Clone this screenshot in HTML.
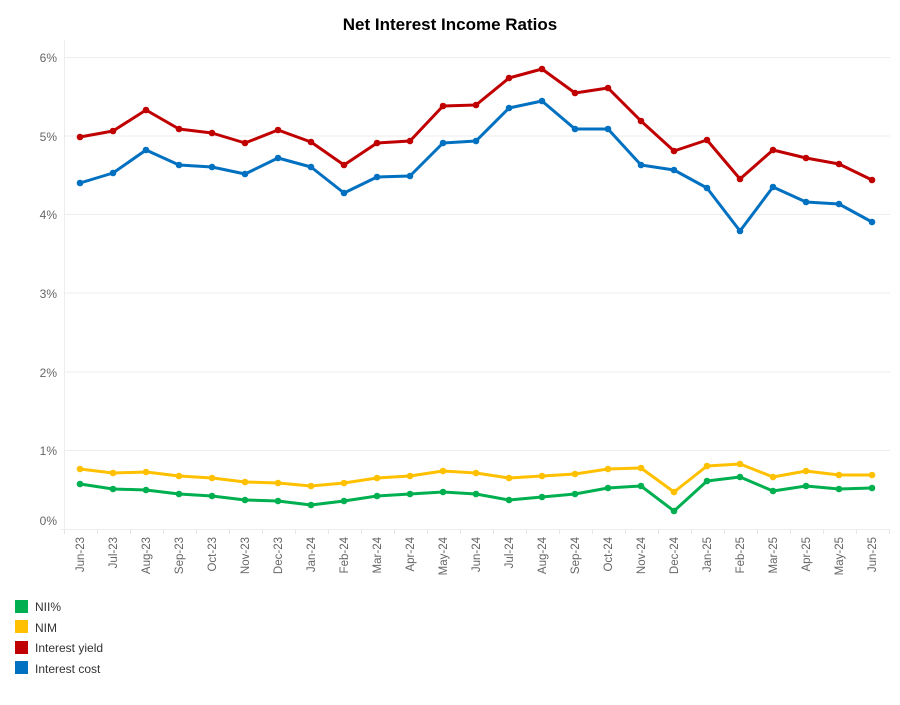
<!DOCTYPE html>
<html><head><meta charset="utf-8"><style>
body{margin:0;background:#fff;width:900px;height:700px;overflow:hidden;font-family:"Liberation Sans",sans-serif}
</style></head><body>
<svg width="900" height="700" xmlns="http://www.w3.org/2000/svg" font-family="Liberation Sans, sans-serif">
<text x="450" y="30" text-anchor="middle" font-size="17" font-weight="bold" fill="#000">Net Interest Income Ratios</text>
<g stroke="#ededed" stroke-width="1">
<line x1="64" y1="57.5" x2="890" y2="57.5"/><line x1="64" y1="136" x2="890" y2="136"/><line x1="64" y1="214.5" x2="890" y2="214.5"/><line x1="64" y1="293" x2="890" y2="293"/><line x1="64" y1="372" x2="890" y2="372"/><line x1="64" y1="450.5" x2="890" y2="450.5"/>
<line x1="60" y1="529.5" x2="890" y2="529.5"/><line x1="64.5" y1="40" x2="64.5" y2="529"/>
</g>
<g font-size="12" fill="#666" text-anchor="end">
<text x="57" y="62">6%</text><text x="57" y="141">5%</text><text x="57" y="219">4%</text><text x="57" y="298">3%</text><text x="57" y="377">2%</text><text x="57" y="455">1%</text><text x="57" y="525">0%</text>
</g>
<g id="xt" stroke="#e5e5e5"></g>
<g id="xl" font-size="11.5" fill="#666"></g>
<g id="series"></g>
<g font-size="12" fill="#333">
<rect x="15" y="600" width="13" height="13" fill="#00b050"/><text x="35" y="611">NII%</text>
<rect x="15" y="620" width="13" height="13" fill="#ffc000"/><text x="35" y="632">NIM</text>
<rect x="15" y="641" width="13" height="13" fill="#c00000"/><text x="35" y="652">Interest yield</text>
<rect x="15" y="661" width="13" height="13" fill="#0070c0"/><text x="35" y="673">Interest cost</text>
</g>
</svg>
<script>
const ns="http://www.w3.org/2000/svg";
const labels=["Jun-23","Jul-23","Aug-23","Sep-23","Oct-23","Nov-23","Dec-23","Jan-24","Feb-24","Mar-24","Apr-24","May-24","Jun-24","Jul-24","Aug-24","Sep-24","Oct-24","Nov-24","Dec-24","Jan-25","Feb-25","Mar-25","Apr-25","May-25","Jun-25"];
const X=i=>80+i*33;
const xt=document.getElementById('xt'),xl=document.getElementById('xl');
for(let i=0;i<=25;i++){const l=document.createElementNS(ns,'line');l.setAttribute('x1',64.5+i*33);l.setAttribute('x2',64.5+i*33);l.setAttribute('y1',530);l.setAttribute('y2',534);xt.appendChild(l);}
labels.forEach((t,i)=>{const e=document.createElementNS(ns,'text');e.setAttribute('transform',`translate(${X(i)+4},537) rotate(-90)`);e.setAttribute('text-anchor','end');e.textContent=t;xl.appendChild(e);});
const data=[
["#ffc000",[469,473,472,476,478,482,483,486,483,478,476,471,473,478,476,474,469,468,492,466,464,477,471,475,475]],
["#00b050",[484,489,490,494,496,500,501,505,501,496,494,492,494,500,497,494,488,486,511,481,477,491,486,489,488]],
["#0070c0",[183,173,150,165,167,174,158,167,193,177,176,143,141,108,101,129,129,165,170,188,231,187,202,204,222]],
["#c00000",[137,131,110,129,133,143,130,142,165,143,141,106,105,78,69,93,88,121,151,140,179,150,158,164,180]]];
const s=document.getElementById('series');
data.forEach(([c,v])=>{const p=document.createElementNS(ns,'polyline');p.setAttribute('points',v.map((y,i)=>X(i)+','+y).join(' '));p.setAttribute('fill','none');p.setAttribute('stroke',c);p.setAttribute('stroke-width','3');p.setAttribute('stroke-linejoin','round');s.appendChild(p);
v.forEach((y,i)=>{const ci=document.createElementNS(ns,'circle');ci.setAttribute('cx',X(i));ci.setAttribute('cy',y);ci.setAttribute('r','3.3');ci.setAttribute('fill',c);s.appendChild(ci);});});
</script>
</body></html>
